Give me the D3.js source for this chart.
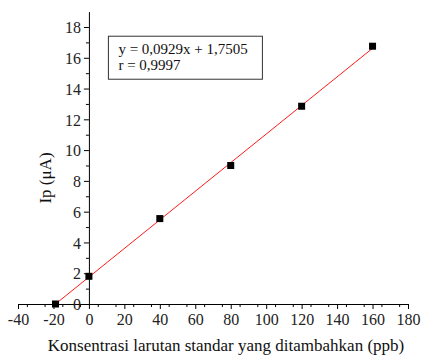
<!DOCTYPE html>
<html>
<head>
<meta charset="utf-8">
<script src="https://cdn.jsdelivr.net/npm/d3@7"></script>
<style>
  body { margin: 0; background: #fff; }
  svg { display: block; font-family: "Liberation Serif", "Times New Roman", serif; }
  .axis text { font-size: 16px; fill: #222; font-family: "Liberation Serif", serif; }
  .axis path, .axis line { stroke: #000; }
</style>
</head>
<body>
<svg id="chart"></svg>
<script>
// data
const concentration = [-18.84, 0, 40, 80, 120, 160];
const current = [0, 1.8, 5.55, 9.0, 12.85, 16.75];
const slope = 0.0929;
const intercept = 1.7505;
const xTicks = [-40, -20, 0, 20, 40, 60, 80, 100, 120, 140, 160, 180];
const yTicks = [0, 2, 4, 6, 8, 10, 12, 14, 16, 18];
const equationLines = ['y = 0,0929x + 1,7505', 'r = 0,9997'];

const width = 425, height = 358;
const margin = {top: 11.6, right: 17, bottom: 54, left: 18};
const innerW = width - margin.left - margin.right;
const innerH = height - margin.top - margin.bottom;

const svg = d3.select('#chart').attr('width', width).attr('height', height);
const chart = svg.append('g').attr('transform', `translate(${margin.left},${margin.top})`);

const x = d3.scaleLinear().domain([-40, 180]).range([0, innerW]);
const y = d3.scaleLinear().domain([0, 19]).range([innerH, 0]);

// x axis: minor ticks, then major ticks with labels
chart.append('g').attr('class', 'axis')
  .attr('transform', `translate(0,${innerH})`)
  .call(d3.axisBottom(x).tickValues(d3.range(-35, 180, 10)).tickSize(3).tickFormat(''))
  .call(g => g.select('.domain').remove());
chart.append('g').attr('class', 'axis')
  .attr('transform', `translate(0,${innerH})`)
  .call(d3.axisBottom(x).tickValues(xTicks).tickSize(5).tickPadding(2).tickSizeOuter(0)
    .tickFormat(d => String(d)))
  .call(g => g.selectAll('text').attr('dy', '0.9em'));

// y axis at x = 0
chart.append('g').attr('class', 'axis')
  .attr('transform', `translate(${x(0)},0)`)
  .call(d3.axisLeft(y).tickValues(d3.range(1, 19, 2)).tickSize(3).tickFormat(''))
  .call(g => g.select('.domain').remove());
chart.append('g').attr('class', 'axis')
  .attr('transform', `translate(${x(0)},0)`)
  .call(d3.axisLeft(y).tickValues(yTicks).tickSize(5).tickPadding(3).tickSizeOuter(0))
  .call(g => g.selectAll('text').attr('dy', '0.36em'));

// regression line
const x0 = -intercept / slope;
chart.append('line')
  .attr('x1', x(x0)).attr('y1', y(0))
  .attr('x2', x(160)).attr('y2', y(slope * 160 + intercept))
  .attr('stroke', '#ff1a1a').attr('stroke-width', 1);

// points
const pts = concentration.map((c, i) => ({c, v: current[i]}));
chart.selectAll('.point')
  .data(pts)
  .join('rect')
  .attr('class', 'point')
  .attr('x', d => x(d.c) - 3.5)
  .attr('y', d => y(d.v) - 3.5)
  .attr('width', 7).attr('height', 7)
  .attr('fill', '#000');

// equation box
const box = chart.append('g').attr('transform', `translate(${x(11)},${y(17.4)})`);
box.append('rect')
  .attr('width', 154).attr('height', 43)
  .attr('fill', '#fff').attr('stroke', '#333').attr('stroke-width', 1);
box.selectAll('text')
  .data(equationLines)
  .join('text')
  .attr('x', 10)
  .attr('y', (d, i) => 18 + i * 16)
  .attr('font-size', 15)
  .attr('fill', '#111')
  .text(d => d);

// axis titles
svg.append('text')
  .attr('x', 226)
  .attr('y', 351)
  .attr('text-anchor', 'middle')
  .attr('font-size', 17)
  .attr('fill', '#111')
  .text('Konsentrasi larutan standar yang ditambahkan (ppb)');

svg.append('text')
  .attr('transform', 'translate(51,178) rotate(-90)')
  .attr('text-anchor', 'middle')
  .attr('font-size', 17)
  .attr('fill', '#111')
  .text('Ip (μA)');
</script>
</body>
</html>
